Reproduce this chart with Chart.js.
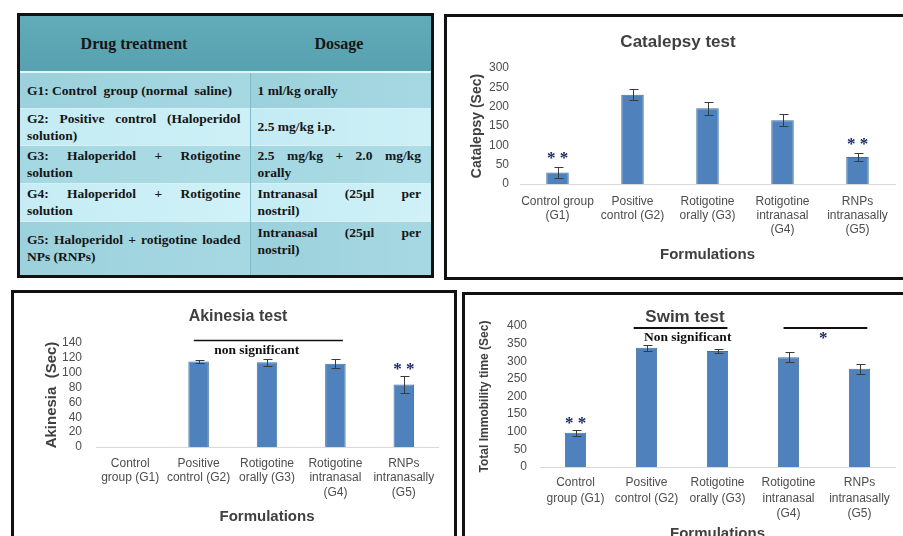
<!DOCTYPE html>
<html>
<head>
<meta charset="utf-8">
<script src="https://cdn.jsdelivr.net/npm/chart.js@4.4.1/dist/chart.umd.min.js"></script>
<style>
    html, body { margin: 0; padding: 0; background: #fff; }
    body { position: relative; width: 903px; height: 536px; overflow: hidden; }
    .panel { position: absolute; border: 3px solid #111; background: #fff; overflow: hidden; }
    .panel canvas { position: absolute; left: 0; top: 0; }

    /* treatment table */
    #tbl { left: 17px; top: 13px; width: 411px; height: 259px; background: #9fd3de; }
    #tbl table { border-collapse: collapse; table-layout: fixed; width: 411px;
        font: bold 13.5px/17px "Liberation Serif", "Times New Roman", serif; color: #151515; }
    #tbl td { padding: 0 9px 0 7px; vertical-align: middle; text-align: left;
        border-top: 1px solid #d6f0f5; }
    #tbl td + td { border-left: 1px solid #7fbac7; padding-right: 10px; }
    #tbl .hd td { background: linear-gradient(#62acb9, #57a1b0); font-size: 16px; text-align: center;
        border-top: none; border-left: none; border-bottom: 2px solid #e4f6f9; }
    #tbl .r1 td { background: linear-gradient(90deg, #9bd1dc, #a6d8e2); }
    #tbl .r2 td { background: linear-gradient(90deg, #c3ebf3, #cdf0f6); }
    #tbl .r3 td { background: linear-gradient(90deg, #a3d7e1, #addce6); }
    #tbl .r4 td { background: linear-gradient(90deg, #c5ecf4, #cff1f7); }
    #tbl .r5 td { background: linear-gradient(90deg, #9bd1dc, #a6d8e2); }
    #tbl .j { text-align: justify; text-align-last: justify; }
    #tbl .up { vertical-align: top; padding-top: 2px; }

    #catalepsy { left: 444px; top: 14px; width: 470px; height: 260px; }
    #akinesia { left: 11px; top: 290px; width: 440px; height: 260px; }
    #swim { left: 462px; top: 292px; width: 450px; height: 260px; }
</style>
</head>
<body>

<div class="panel" id="tbl">
    <table>
        <colgroup><col style="width:230px"><col style="width:181px"></colgroup>
        <tr class="hd" style="height:56px"><td>Drug treatment</td><td>Dosage</td></tr>
        <tr class="r1" style="height:36px"><td>G1: Control&nbsp; group (normal&nbsp; saline)</td><td>1 ml/kg orally</td></tr>
        <tr class="r2" style="height:37px"><td><div class="j">G2: Positive control (Haloperidol</div>solution)</td><td>2.5 mg/kg i.p.</td></tr>
        <tr class="r3" style="height:38px"><td><div class="j">G3: Haloperidol + Rotigotine</div>solution</td><td><div class="j">2.5 mg/kg + 2.0 mg/kg</div>orally</td></tr>
        <tr class="r4" style="height:38px"><td><div class="j">G4: Haloperidol + Rotigotine</div>solution</td><td><div class="j">Intranasal (25µl per</div>nostril)</td></tr>
        <tr class="r5" style="height:54px"><td><div class="j">G5: Haloperidol + rotigotine loaded</div>NPs (RNPs)</td><td class="up"><div class="j">Intranasal (25µl per</div>nostril)</td></tr>
    </table>
</div>

<div class="panel" id="catalepsy"><canvas id="catalepsyChart" width="456" height="260"></canvas></div>
<div class="panel" id="akinesia"><canvas id="akinesiaChart" width="440" height="243"></canvas></div>
<div class="panel" id="swim"><canvas id="swimChart" width="438" height="260"></canvas></div>

<script>
// --- data ---
const catalepsyLabels = [['Control group', '(G1)'], ['Positive', 'control (G2)'], ['Rotigotine', 'orally (G3)'], ['Rotigotine', 'intranasal', '(G4)'], ['RNPs', 'intranasally', '(G5)']];
const groupLabels = [['Control', 'group (G1)'], ['Positive', 'control (G2)'], ['Rotigotine', 'orally (G3)'], ['Rotigotine', 'intranasal', '(G4)'], ['RNPs', 'intranasally', '(G5)']];

const catalepsyMean = [30, 231, 196, 165, 70];
const catalepsyErr = [15, 15, 17, 15, 11];
const catalepsyStars = ['* *', '', '', '', '* *'];
const catalepsyTicks = [0, 50, 100, 150, 200, 250, 300];

const akinesiaMean = [null, 115, 114, 112, 84];
const akinesiaErr = [0, 2, 5, 6, 11];
const akinesiaStars = ['', '', '', '', '* *'];
const akinesiaTicks = [0, 20, 40, 60, 80, 100, 120, 140];

const swimMean = [97, 338, 329, 311, 279];
const swimErr = [9, 9, 6, 14, 14];
const swimStars = ['* *', '', '', '', ''];
const swimTicks = [0, 50, 100, 150, 200, 250, 300, 350, 400];

// brackets over groups (category index range, y value)
const akinesiaBrackets = [
    { from: 0.93, to: 3.11, at: 144, width: 1.5, text: 'non significant', textAt: 1.85, textY: 130.5 }
];
const swimBrackets = [
    { from: 0.82, to: 2.14, at: 394, width: 2, text: 'Non significant', textAt: 1.58, textY: 366 },
    { from: 2.93, to: 4.11, at: 394, width: 2, text: '*', star: true, textAt: 3.49, textY: 374 }
];

Chart.defaults.font.family = '"Liberation Sans", Arial, sans-serif';
Chart.defaults.color = '#4d4d4d';

const STAR_FONT = 'bold 17px "Liberation Serif", serif';

// error bars, asterisks and brackets
const decorations = {
    id: 'decorations',
    afterDatasetsDraw(chart, args, opts) {
        const { ctx, scales: { x, y } } = chart;
        const values = chart.data.datasets[0].data;
        const bars = chart.getDatasetMeta(0).data;
        ctx.save();

        ctx.strokeStyle = '#3a3a3a';
        ctx.lineWidth = 1;
        opts.errors.forEach((err, i) => {
            if (values[i] == null || !err) return;
            const cx = Math.round(bars[i].x) + 0.5;
            const hi = Math.round(y.getPixelForValue(values[i] + err)) + 0.5;
            const lo = Math.round(y.getPixelForValue(values[i] - err)) + 0.5;
            ctx.beginPath();
            ctx.moveTo(cx, hi); ctx.lineTo(cx, lo);
            ctx.moveTo(cx - 4, hi); ctx.lineTo(cx + 5, hi);
            ctx.moveTo(cx - 4, lo); ctx.lineTo(cx + 5, lo);
            ctx.stroke();
        });

        ctx.fillStyle = '#1b2868';
        ctx.font = STAR_FONT;
        ctx.textAlign = 'center';
        ctx.textBaseline = 'alphabetic';
        opts.stars.forEach((s, i) => {
            if (!s) return;
            const top = y.getPixelForValue((values[i] || 0) + opts.errors[i]);
            ctx.fillText(s, bars[i].x, top - opts.starGap + 8);
        });

        (opts.brackets || []).forEach(b => {
            const ly = Math.round(y.getPixelForValue(b.at)) + (b.width % 2 ? 0.5 : 0);
            ctx.strokeStyle = '#111';
            ctx.lineWidth = b.width;
            ctx.beginPath();
            ctx.moveTo(x.getPixelForValue(b.from), ly);
            ctx.lineTo(x.getPixelForValue(b.to), ly);
            ctx.stroke();
            const tx = x.getPixelForValue(b.textAt);
            const ty = y.getPixelForValue(b.textY);
            if (b.star) {
                ctx.fillStyle = '#1b2868';
                ctx.font = STAR_FONT;
                ctx.textBaseline = 'alphabetic';
                ctx.fillText(b.text, tx, ty + 8);
            } else {
                ctx.fillStyle = '#111';
                ctx.font = 'bold 13.5px "Liberation Serif", serif';
                ctx.textBaseline = 'middle';
                ctx.fillText(b.text, tx, ty);
            }
        });
        ctx.restore();
    }
};

function drawPanel(id, p) {
    return new Chart(document.getElementById(id), {
        type: 'bar',
        data: {
            labels: p.labels,
            datasets: [{
                data: p.values,
                backgroundColor: '#4f81bd',
                borderColor: '#41709f',
                borderWidth: 1,
                barPercentage: 0.3,
                categoryPercentage: 1
            }]
        },
        options: {
            responsive: false,
            animation: false,
            devicePixelRatio: 1,
            layout: { padding: p.pad },
            plugins: {
                legend: { display: false },
                tooltip: { enabled: false },
                title: {
                    display: true,
                    text: p.title,
                    color: '#3f3f3f',
                    font: p.titleFont,
                    padding: p.titlePad
                },
                decorations: { errors: p.errors, stars: p.stars, starGap: p.starGap, brackets: p.brackets }
            },
            scales: {
                x: {
                    grid: { display: false, drawTicks: false },
                    border: { color: '#d9d9d9', width: 1 },
                    ticks: { autoSkip: false, maxRotation: 0, padding: p.xTickPad, font: { size: 12, lineHeight: p.xLine } },
                    title: {
                        display: true, text: 'Formulations', color: '#404040',
                        font: { size: 15, weight: 'bold', lineHeight: 1.2 },
                        padding: { top: 0, bottom: p.xTitlePad }
                    },
                    afterFit: s => { s.height = p.xHeight; }
                },
                y: {
                    min: p.ticks[0],
                    max: p.ticks[p.ticks.length - 1],
                    grid: { display: false, drawTicks: false },
                    border: { display: false },
                    ticks: { autoSkip: false, padding: p.yTickPad, font: { size: 12 } },
                    afterBuildTicks: s => { s.ticks = p.ticks.map(v => ({ value: v })); },
                    title: {
                        display: true, text: p.yTitle, color: '#404040',
                        font: p.yTitleFont,
                        padding: { top: p.yTitlePad, bottom: 0 }
                    },
                    afterFit: s => { s.width = p.yWidth; }
                }
            }
        },
        plugins: [decorations]
    });
}

drawPanel('catalepsyChart', {
    labels: catalepsyLabels, values: catalepsyMean, errors: catalepsyErr, stars: catalepsyStars, starGap: 12,
    ticks: catalepsyTicks, title: 'Catalepsy test', yTitle: 'Catalepsy (Sec)',
    pad: { left: 14, right: 8, top: 0, bottom: 0 },
    titleFont: { size: 17, weight: 'bold', lineHeight: 1.2 }, titlePad: { top: 15, bottom: 15.6 },
    yWidth: 59, yTickPad: 11, yTitleFont: { size: 14, weight: 'bold', lineHeight: 1.2 }, yTitlePad: 7.6,
    xHeight: 93, xTickPad: 11, xLine: '14px', xTitlePad: 13
});

drawPanel('akinesiaChart', {
    labels: groupLabels, values: akinesiaMean, errors: akinesiaErr, stars: akinesiaStars, starGap: 10,
    brackets: akinesiaBrackets,
    ticks: akinesiaTicks, title: 'Akinesia test', yTitle: 'Akinesia  (Sec)',
    pad: { left: 24, right: 16, top: 0, bottom: 0 },
    titleFont: { size: 16, weight: 'bold', lineHeight: 1.2 }, titlePad: { top: 14.4, bottom: 16.4 },
    yWidth: 58, yTickPad: 14, yTitleFont: { size: 15, weight: 'bold', lineHeight: 1.2 }, yTitlePad: 5,
    xHeight: 89, xTickPad: 9, xLine: '14.5px', xTitlePad: 10
});

drawPanel('swimChart', {
    labels: groupLabels, values: swimMean, errors: swimErr, stars: swimStars, starGap: 10,
    brackets: swimBrackets,
    ticks: swimTicks, title: 'Swim test', yTitle: 'Total Immobility time (Sec)',
    pad: { left: 10, right: 8, top: 0, bottom: 0 },
    titleFont: { size: 17, weight: 'bold', lineHeight: 1.0 }, titlePad: { top: 13.5, bottom: 0.5 },
    yWidth: 65, yTickPad: 13, yTitleFont: { size: 12, weight: 'bold', lineHeight: 1.2 }, yTitlePad: 2.8,
    xHeight: 88, xTickPad: 8, xLine: '15.5px', xTitlePad: 12
});
</script>
</body>
</html>
